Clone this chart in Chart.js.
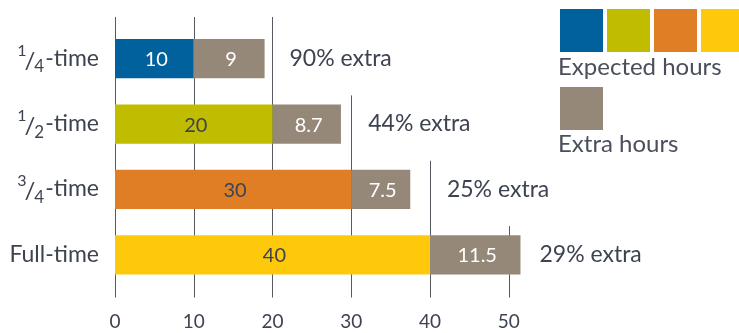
<!DOCTYPE html>
<html lang="en">
<head>
<meta charset="UTF-8">
<title>Expected and extra hours</title>
<script src="https://cdn.jsdelivr.net/npm/chart.js"></script>
<style>
  body { margin: 0; background: #fff; font-family: Lato, sans-serif; }
  .wrap { position: relative; width: 739px; height: 333px; overflow: hidden; }
  .sw { position: absolute; width: 43px; height: 43px; }
  .lg { position: absolute; left: 558px; font-size: 24px; line-height: 24px; color: #4a4f5b; white-space: nowrap; }
</style>
</head>
<body>
<div class="wrap" id="wrap">
  <canvas id="chart"></canvas>
</div>
<script>
  // data
  const categories = ['1/4-time', '1/2-time', '3/4-time', 'Full-time'];
  const expectedHours = [10, 20, 30, 40];
  const extraHours = [9, 8.7, 7.5, 11.5];
  const extraLabels = ['90% extra', '44% extra', '25% extra', '29% extra'];
  const xTicks = [0, 10, 20, 30, 40, 50];

  // styles
  const expectedColors = ['#00619c', '#c0bd00', '#e07e26', '#fec90b'];
  const extraColor = '#968879';
  const textColor = '#3d4350';
  const barTextColors = ['#ffffff', textColor, textColor, textColor];

  // legend (html)
  const wrap = document.getElementById('wrap');
  expectedColors.forEach(function (c, i) {
    const d = document.createElement('div');
    d.className = 'sw';
    d.style.left = (560 + i * 47) + 'px';
    d.style.top = '9px';
    d.style.background = c;
    wrap.appendChild(d);
  });
  const g = document.createElement('div');
  g.className = 'sw';
  g.style.left = '560px';
  g.style.top = '87px';
  g.style.background = extraColor;
  wrap.appendChild(g);
  [['Expected hours', 54], ['Extra hours', 131]].forEach(function (t) {
    const d = document.createElement('div');
    d.className = 'lg';
    d.style.top = t[1] + 'px';
    d.textContent = t[0];
    wrap.appendChild(d);
  });

  const annFont = '23px Lato';

  function labelX(chart, i) {
    const x = chart.scales.x;
    const total = expectedHours[i] + extraHours[i];
    const next = Math.ceil(total / 10) * 10;
    if (next <= xTicks[xTicks.length - 1]) return x.getPixelForValue(next) + 17;
    return x.getPixelForValue(total) + 19;
  }

  const customDraw = {
    id: 'customDraw',
    beforeDatasetsDraw(chart) {
      const ctx = chart.ctx, x = chart.scales.x, y = chart.scales.y, a = chart.chartArea;
      ctx.save();
      ctx.font = annFont;
      const spans = extraLabels.map(function (t, i) {
        const x0 = labelX(chart, i);
        return { x0: x0, x1: x0 + ctx.measureText(t).width };
      });
      ctx.strokeStyle = '#555a60';
      ctx.lineWidth = 1;
      xTicks.forEach(function (t) {
        const px = Math.round(x.getPixelForValue(t)) + 0.5;
        let top = a.top - 9;
        spans.forEach(function (s, i) {
          if (px >= s.x0 - 4 && px <= s.x1 + 4) {
            top = (y.getPixelForValue(i) + y.getPixelForValue(i + 1)) / 2 + 4;
          }
        });
        ctx.beginPath();
        ctx.moveTo(px, top);
        ctx.lineTo(px, a.bottom + 10);
        ctx.stroke();
      });
      ctx.restore();
    },
    afterDatasetsDraw(chart) {
      const ctx = chart.ctx, y = chart.scales.y, a = chart.chartArea;
      ctx.save();

      // values inside bars
      ctx.font = '20px Lato';
      ctx.textAlign = 'center';
      ctx.textBaseline = 'middle';
      chart.data.datasets.forEach(function (ds, di) {
        chart.getDatasetMeta(di).data.forEach(function (el, i) {
          ctx.fillStyle = di === 0 ? barTextColors[i] : '#ffffff';
          ctx.fillText(String(ds.data[i]), (el.x + el.base) / 2 + 2, el.y + 1);
        });
      });

      // % extra annotations
      ctx.font = annFont;
      ctx.textAlign = 'left';
      ctx.fillStyle = textColor;
      extraLabels.forEach(function (t, i) {
        ctx.fillText(t, labelX(chart, i), y.getPixelForValue(i));
      });

      // category labels with fractions
      ctx.textBaseline = 'alphabetic';
      const right = a.left - 16;
      categories.forEach(function (lab, i) {
        const cy = y.getPixelForValue(i);
        const m = lab.match(/^(\d)\/(\d)(.*)$/);
        ctx.font = '23px Lato';
        if (!m) {
          ctx.textAlign = 'right';
          ctx.fillText(lab, right, cy + 7);
          return;
        }
        ctx.textAlign = 'left';
        const restW = ctx.measureText(m[3]).width;
        const xr = right - restW;
        ctx.fillText(m[3], xr, cy + 7);
        ctx.font = '17px Lato';
        const x4 = xr - 1 - ctx.measureText(m[2]).width;
        ctx.fillText(m[2], x4, cy + 13.5);
        ctx.font = '24px Lato';
        const xs = x4 - ctx.measureText('/').width + 1;
        ctx.fillText('/', xs, cy + 10);
        ctx.font = '16px Lato';
        const x1 = xs - ctx.measureText(m[1]).width + 2;
        ctx.fillText(m[1], x1, cy - 3);
      });
      ctx.restore();
    }
  };

  new Chart(document.getElementById('chart'), {
    type: 'bar',
    data: {
      labels: categories,
      datasets: [
        { label: 'Expected hours', data: expectedHours, backgroundColor: expectedColors, stack: 's' },
        { label: 'Extra hours', data: extraHours, backgroundColor: extraColor, stack: 's' }
      ]
    },
    options: {
      indexAxis: 'y',
      responsive: true,
      maintainAspectRatio: false,
      animation: false,
      barPercentage: 0.6,
      categoryPercentage: 1,
      layout: { padding: { left: 115, right: 33.5, top: 26, bottom: 0 } },
      plugins: { legend: { display: false }, tooltip: { enabled: false } },
      scales: {
        x: {
          stacked: true,
          min: 0,
          max: 75,
          grid: { display: false, drawTicks: false, tickLength: 0 },
          border: { display: false },
          afterBuildTicks: function (s) { s.ticks = xTicks.map(function (v) { return { value: v }; }); },
          afterFit: function (s) { s.height = 45.5; },
          ticks: { padding: 23, color: textColor, font: { family: 'Lato', size: 19 } }
        },
        y: { stacked: true, display: false }
      }
    },
    plugins: [customDraw]
  });
</script>
</body>
</html>
